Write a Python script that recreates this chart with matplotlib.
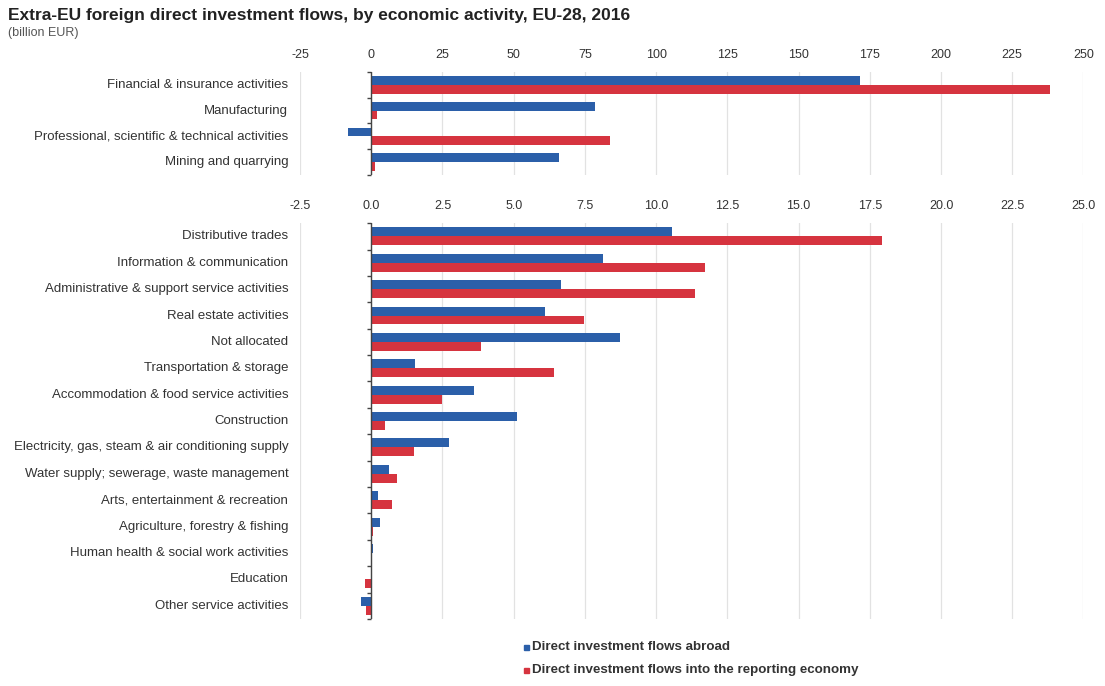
import numpy as np
import matplotlib.pyplot as plt

plt.rcParams['font.family'] = ['Liberation Sans', 'DejaVu Sans']

# large activities (top panel, billion EUR)
top_labels = ['Financial & insurance activities', 'Manufacturing',
              'Professional, scientific & technical activities', 'Mining and quarrying']
top_abroad = [171.7, 78.7, -8.3, 65.9]
top_inward = [238.4, 2.1, 83.9, 1.4]

# remaining activities (bottom panel, billion EUR)
bot_labels = ['Distributive trades', 'Information & communication',
              'Administrative & support service activities', 'Real estate activities',
              'Not allocated', 'Transportation & storage',
              'Accommodation & food service activities', 'Construction',
              'Electricity, gas, steam & air conditioning supply',
              'Water supply; sewerage, waste management',
              'Arts, entertainment & recreation', 'Agriculture, forestry & fishing',
              'Human health & social work activities', 'Education', 'Other service activities']
bot_abroad = [10.56, 8.15, 6.67, 6.11, 8.74, 1.52, 3.61, 5.13, 2.72, 0.63, 0.25, 0.32, 0.05, 0.02, -0.35]
bot_inward = [17.92, 11.71, 11.37, 7.47, 3.86, 6.41, 2.47, 0.48, 1.50, 0.90, 0.74, 0.07, 0.03, -0.23, -0.17]

top_ticks = np.arange(-25, 251, 25)
bot_ticks = np.arange(-2.5, 25.1, 2.5)

blue = '#2b5fa9'
red = '#d6343f'
text_col = '#333333'

fig = plt.figure(figsize=(11.05, 6.86), dpi=100)
ax1 = fig.add_axes([0.2715, 0.745, 0.709, 0.150])
ax2 = fig.add_axes([0.2715, 0.0977, 0.709, 0.577])


def draw_panel(ax, labels, abroad, inward, ticks, fmt):
    n = len(labels)
    y = np.arange(n)
    h = 0.34
    ax.barh(y - h / 2, abroad, height=h, color=blue, zorder=3)
    ax.barh(y + h / 2, inward, height=h, color=red, zorder=3)
    ax.set_ylim(n - 0.5, -0.5)
    ax.set_xlim(ticks[0], ticks[-1])
    ax.set_xticks(ticks)
    ax.set_xticklabels([fmt % t for t in ticks], fontsize=9, color=text_col)
    ax.xaxis.tick_top()
    ax.tick_params(axis='x', length=0, pad=8)
    ax.set_yticks([])
    for s in ax.spines.values():
        s.set_visible(False)
    ax.grid(axis='x', color='#e2e2e2', linewidth=0.9, zorder=0)
    # zero line with small marks between categories
    ax.axvline(0, color='#444444', linewidth=1.0, zorder=4)
    bounds = np.arange(n + 1) - 0.5
    ax.plot(np.zeros(len(bounds)) - (ticks[-1] - ticks[0]) * 0.003, bounds, linestyle='none',
            marker='_', markersize=3, color='#444444', zorder=4, clip_on=False)
    for yi, lab in zip(y, labels):
        ax.text(-0.015, yi, lab, transform=ax.get_yaxis_transform(),
                ha='right', va='center', fontsize=9.5, color=text_col)


draw_panel(ax1, top_labels, top_abroad, top_inward, top_ticks, '%d')
draw_panel(ax2, bot_labels, bot_abroad, bot_inward, bot_ticks, '%.1f')

fig.text(0.007, 0.978, 'Extra-EU foreign direct investment flows, by economic activity, EU-28, 2016',
         fontsize=12.5, fontweight='bold', color='#222222', va='center')
fig.text(0.007, 0.952, '(billion EUR)', fontsize=9, color='#555555', va='center')

# legend
for yy, col, lab in [(647, blue, 'Direct investment flows abroad'),
                     (670, red, 'Direct investment flows into the reporting economy')]:
    fig.patches.append(plt.Rectangle((524 / 1105, 1 - (yy + 3) / 686), 5 / 1105, 5 / 686,
                                     transform=fig.transFigure, color=col))
    fig.text(532 / 1105, 1 - yy / 686, lab, fontsize=9.6, fontweight='bold',
             color=text_col, va='center')

fig.savefig('out.png', dpi=100)
